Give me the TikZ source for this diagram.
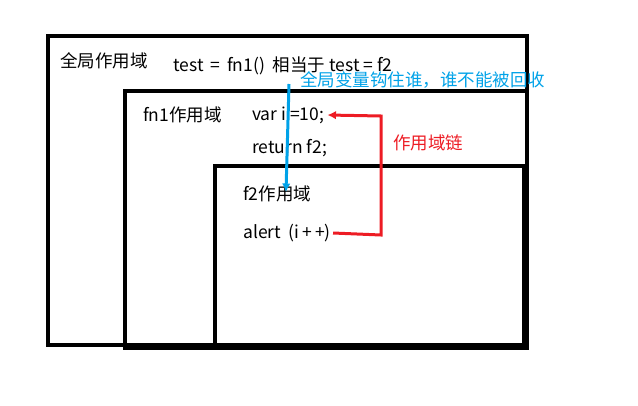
\documentclass[tikz,border=0pt]{standalone}
\usepackage{fontspec}
\setmainfont{Noto Sans CJK SC}
\usetikzlibrary{arrows.meta}
\tikzset{>={Latex[width=0.3cm,length=0.3cm]}}
\tikzset{
  box/.style={line width=3.5pt, draw=black},
  lbl/.style={anchor=west, inner sep=0pt, font={\fontsize{17.5pt}{20}\selectfont}}}
\begin{document}
\begin{tikzpicture}[x=1pt, y=-1pt]
     \useasboundingbox (0,0) rectangle (638,405);
     % scopes
     \draw[box] (48,36) rectangle (527,345);
     \draw[box] (125,91) rectangle (527,348);
     \draw[box] (215,166) rectangle (524,345);
     % labels
     \node[lbl] (global) at (60,61) {全局作用域};
     \node[lbl] (call) at (173,66) {test\ \,=\ \,fn1()\ \ 相当于 test = f2};
     \node[lbl] (fnone) at (143,115) {fn1作用域};
     \node[lbl] (vari) at (252,115) {var i =10;};
     \node[lbl] (ret) at (252,148) {return f2;};
     \node[lbl] (ftwo) at (243,194) {f2作用域};
     \node[lbl] (alert) at (243,233) {alert\ \ (i\,+\,+)};
     \node[lbl, text={rgb,255:red,0;green,162;blue,232}] (hook) at (300,80) {全局变量钩住谁，谁不能被回收};
     \node[lbl, text={rgb,255:red,237;green,28;blue,36}] (chain) at (393,143) {作用域链};
     % arrows
     \coordinate (btop) at (289,84);
     \draw[->, line width=3pt, draw={rgb,255:red,0;green,162;blue,232}] (btop) -- (286,192);
     \coordinate (rturn) at (381,235);
     \coordinate (rup) at (381,116);
     \draw[->, line width=3pt, draw={rgb,255:red,237;green,28;blue,36}] ([xshift=2pt]alert.east) -- (rturn) -- (rup) -- ([xshift=3pt]vari.east);
\end{tikzpicture}
\end{document}
